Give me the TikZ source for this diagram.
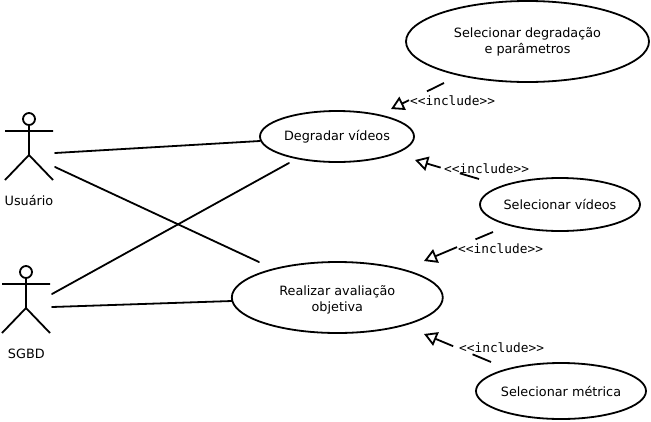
\documentclass[tikz,border=0pt]{standalone}
\usepackage{fontspec}
\setmainfont{DejaVu Sans}
\setmonofont{DejaVu Sans Mono}
\usetikzlibrary{shapes.geometric,arrows.meta}
\tikzset{
  uc/.style={ellipse,draw=black,line width=1.8pt,align=center,inner sep=0pt,font=\fontsize{12.8}{16}\selectfont},
  txt/.style={inner sep=0pt,font=\fontsize{12.8}{16}\selectfont},
  stereo/.style={inner sep=0pt,anchor=west,font=\ttfamily\fontsize{12.8}{16}\selectfont},
  assoc/.style={line width=1.8pt,line cap=round},
  limb/.style={line width=1.8pt},
  incl/.style={line width=1.8pt,-{Triangle[open,length=13pt,width=14.5pt,line width=1.8pt]}},
}
\begin{document}
\begin{tikzpicture}[x=1pt,y=-1pt]
\useasboundingbox (0,0) rectangle (651,421);
\fill[white] (0,0) rectangle (651,421);
% use cases
\node[uc,minimum width=243pt,minimum height=81pt] (deg) at (527.5,41.5) {Selecionar degradação\\e parâmetros};
\node[uc,minimum width=154pt,minimum height=51pt] (dv) at (337,136.5) {Degradar vídeos};
\node[uc,minimum width=160pt,minimum height=53pt] (sv) at (560,204.5) {Selecionar vídeos};
\node[uc,minimum width=211pt,minimum height=71pt] (rv) at (337.3,297.5) {\rule{0pt}{15pt}Realizar avaliação\\objetiva};
\node[uc,minimum width=167pt,minimum height=56pt] (sm) at (561,391) {Selecionar métrica};
% actor Usuario
\node[circle,draw=black,line width=1.8pt,minimum size=12pt,inner sep=0pt] (h1) at (29,119) {};
\coordinate (n1) at (29,155);
\coordinate (al1) at (5,131);
\coordinate (ar1) at (53,131);
\coordinate (ll1) at (5,180);
\coordinate (lr1) at (53,180);
\draw[limb] (h1) -- (n1) (al1) -- (ar1) (ll1) -- (n1) -- (lr1);
\node[txt] (u) at (29,200.5) {Usuário};
% actor SGBD
\node[circle,draw=black,line width=1.8pt,minimum size=12pt,inner sep=0pt] (h2) at (26,272) {};
\coordinate (n2) at (26,308);
\coordinate (al2) at (2,284);
\coordinate (ar2) at (50,284);
\coordinate (ll2) at (2,333);
\coordinate (lr2) at (50,333);
\draw[limb] (h2) -- (n2) (al2) -- (ar2) (ll2) -- (n2) -- (lr2);
\node[txt] (s) at (26.3,353.5) {SGBD};
% associations
\coordinate (a1) at (55,153);
\coordinate (a2) at (55,167);
\coordinate (a3) at (52,294);
\coordinate (a4) at (52,307);
\coordinate (b1) at (260,141);
\coordinate (b2) at (259,262);
\coordinate (b3) at (289,163);
\coordinate (b4) at (232,301);
\draw[assoc] (a1) -- (b1);
\draw[assoc] (a2) -- (b2);
\draw[assoc] (a3) -- (b3);
\draw[assoc] (a4) -- (b4);
% includes
\coordinate (i1s) at (444,83);
\coordinate (i1t) at (391,109);
\coordinate (i2s) at (479,179);
\coordinate (i2t) at (415,160);
\coordinate (i3s) at (493,232);
\coordinate (i3t) at (424,261);
\coordinate (i4s) at (491,362);
\coordinate (i4t) at (424,334);
\draw[incl,dash pattern=on 19pt off 20pt on 40pt] (i1s) -- (i1t);
\draw[incl,dash pattern=on 20pt off 20pt on 40pt] (i2s) -- (i2t);
\draw[incl,dash pattern=on 19pt off 20pt on 40pt] (i3s) -- (i3t);
\draw[incl,dash pattern=on 20pt off 21pt on 40pt] (i4s) -- (i4t);
\node[stereo] (l1) at (410,101) {<{}<include>{}>};
\node[stereo] (l2) at (444,169) {<{}<include>{}>};
\node[stereo] (l3) at (458,249) {<{}<include>{}>};
\node[stereo] (l4) at (459,348) {<{}<include>{}>};
\end{tikzpicture}
\end{document}
